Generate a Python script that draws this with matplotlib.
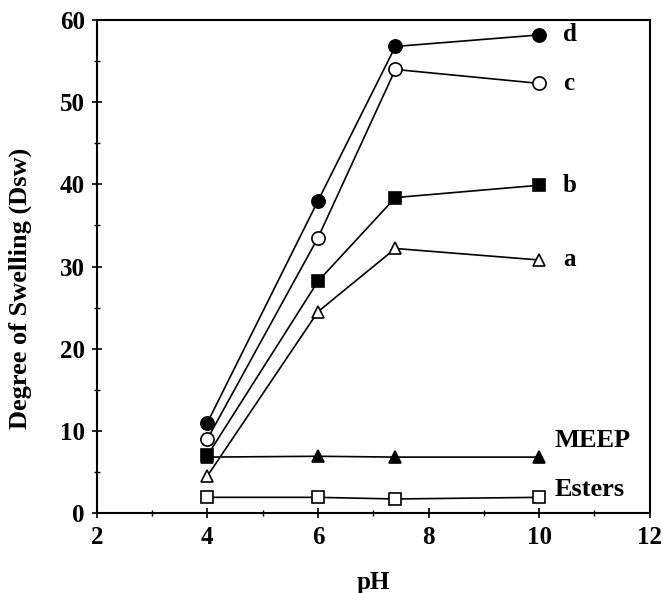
import matplotlib.pyplot as plt

ph = [4, 6, 7.4, 10]
d_vals = [11.0, 38.0, 56.8, 58.2]
c_vals = [9.0, 33.5, 54.0, 52.3]
b_vals = [7.0, 28.2, 38.4, 39.9]
a_vals = [4.5, 24.5, 32.2, 30.8]
meep_vals = [6.8, 6.9, 6.8, 6.8]
ester_vals = [1.9, 1.9, 1.7, 1.9]

plt.rcParams['font.family'] = ['Liberation Serif', 'DejaVu Serif']
plt.rcParams['font.weight'] = 'bold'

fig = plt.figure(figsize=(6.63, 5.93), dpi=100)
ax = fig.add_axes([0.146, 0.135, 0.834, 0.831])

series = [
    (d_vals, 'o', 'black', 9.5),
    (c_vals, 'o', 'white', 9.5),
    (b_vals, 's', 'black', 9),
    (a_vals, '^', 'white', 9),
    (meep_vals, '^', 'black', 8.5),
    (ester_vals, 's', 'white', 9),
]
for vals, mk, fc, ms in series:
    ax.plot(ph, vals, color='black', lw=1.2, marker=mk, ms=ms,
            mfc=fc, mec='black', mew=1.2)

# curve labels
for txt, y in [('d', d_vals[-1]), ('c', c_vals[-1]), ('b', b_vals[-1]), ('a', a_vals[-1])]:
    ax.text(10.43, y, txt, fontsize=18, fontweight='bold', va='center', ha='left')
ax.text(10.28, 8.8, 'MEEP', fontsize=19, fontweight='bold', va='center', ha='left')
ax.text(10.28, 2.9, 'Esters', fontsize=19, fontweight='bold', va='center', ha='left')

ax.set_xlim(2, 12)
ax.set_ylim(0, 60)
ax.set_xticks([2, 4, 6, 8, 10, 12])
ax.set_xticks([3, 5, 7, 9, 11], minor=True)
ax.set_yticks([0, 10, 20, 30, 40, 50, 60])
ax.set_yticks([5, 15, 25, 35, 45, 55], minor=True)
ax.tick_params(which='major', direction='inout', length=7, width=1.2, labelsize=18)
ax.tick_params(which='minor', direction='inout', length=4, width=1)
ax.tick_params(axis='x', pad=6)
ax.tick_params(axis='y', pad=5)
for s in ax.spines.values():
    s.set_linewidth(1.5)

ax.set_xlabel('pH', fontsize=18, fontweight='bold', labelpad=16)
ax.set_ylabel('Degree of Swelling (Dsw)', fontsize=19, fontweight='bold')
ax.yaxis.set_label_coords(-0.118, 0.456)

fig.savefig('out.png', dpi=100)
